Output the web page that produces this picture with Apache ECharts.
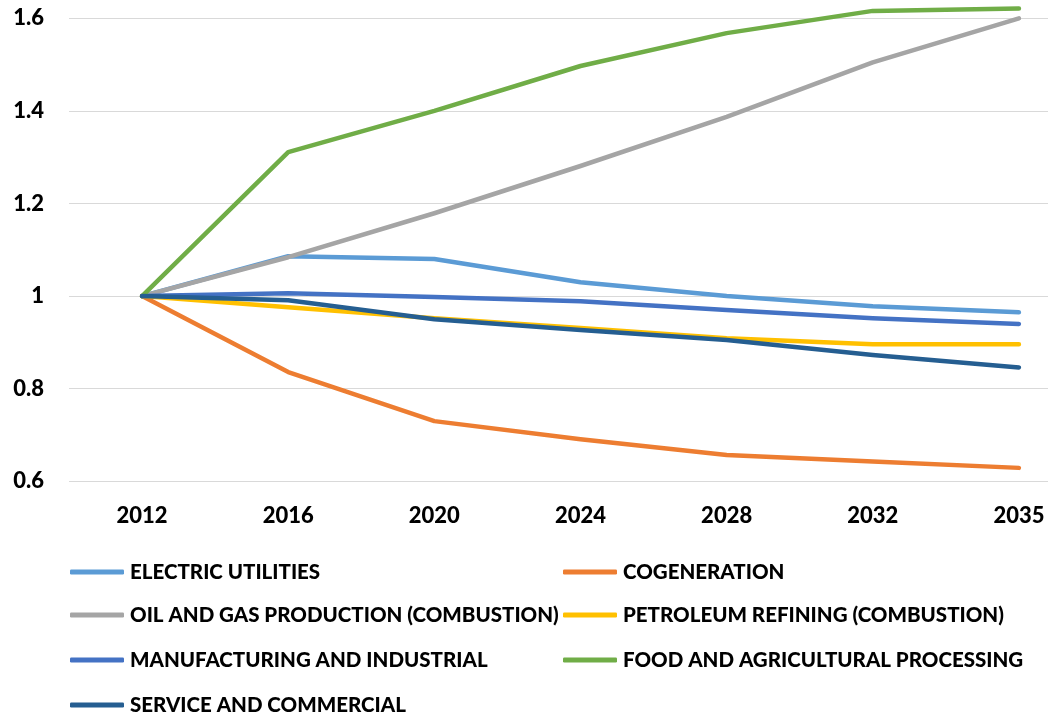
<!DOCTYPE html>
<html><head><meta charset="utf-8">
<script src="https://cdn.jsdelivr.net/npm/echarts@6/dist/echarts.min.js"></script>
<style>html,body{margin:0;padding:0;background:#fff}#c{width:1048px;height:714px}</style>
</head><body><div id="c"></div>
<script>
const years = ['2012','2016','2020','2024','2028','2032','2035'];
const seriesNames = ['ELECTRIC UTILITIES','COGENERATION','OIL AND GAS PRODUCTION (COMBUSTION)','PETROLEUM REFINING (COMBUSTION)','MANUFACTURING AND INDUSTRIAL','FOOD AND AGRICULTURAL PROCESSING','SERVICE AND COMMERCIAL'];
const electricUtilities = [1, 1.086, 1.080, 1.030, 1.000, 0.978, 0.965];
const cogeneration      = [1, 0.836, 0.730, 0.691, 0.657, 0.643, 0.629];
const oilGas            = [1, 1.084, 1.179, 1.281, 1.387, 1.505, 1.600];
const petroleum         = [1, 0.976, 0.952, 0.931, 0.909, 0.896, 0.896];
const manufacturing     = [1, 1.006, 0.998, 0.989, 0.970, 0.952, 0.940];
const food              = [1, 1.311, 1.400, 1.497, 1.568, 1.616, 1.621];
const service           = [1, 0.991, 0.950, 0.927, 0.905, 0.873, 0.846];
const yTicks = [0.6, 0.8, 1.0, 1.2, 1.4, 1.6, 1.8];

const values = [electricUtilities, cogeneration, oilGas, petroleum, manufacturing, food, service];
const colors = ['#5B9BD5','#ED7D31','#A5A5A5','#FFC000','#4472C4','#70AD47','#255E91'];
const FONT = 'Lato';

const chart = echarts.init(document.getElementById('c'), null, {renderer:'canvas'});

const legendPos = [
  {left:70, top:572}, {left:563, top:572},
  {left:70, top:615}, {left:563, top:615},
  {left:70, top:660}, {left:563, top:660},
  {left:70, top:705}
];
const legends = seriesNames.map((n,i)=>({
  data:[n], left:legendPos[i].left, top:legendPos[i].top - 11, padding:0,
  icon:'roundRect', itemWidth:54, itemHeight:5, itemGap:0,
  textStyle:{fontFamily:FONT, fontWeight:900, fontSize:20.5, color:'#000', lineHeight:22, padding:[0,0,0,1]},
  selectedMode:false
}));

chart.setOption({
  animation:false,
  backgroundColor:'#fff',
  grid:{left:69, top:-74.3, width:1023, height:555.6, containLabel:false, outerBoundsMode:'none'},
  xAxis:{
    type:'category', data:years, boundaryGap:true,
    axisLine:{show:false}, axisTick:{show:false},
    axisLabel:{fontFamily:FONT, fontWeight:900, fontSize:22, color:'#000', margin:24}
  },
  yAxis:{
    type:'value', min:yTicks[0], max:yTicks[yTicks.length-1], interval:0.2,
    axisLine:{show:false}, axisTick:{show:false},
    splitLine:{lineStyle:{color:'#D9D9D9', width:1.2}},
    axisLabel:{fontFamily:FONT, fontWeight:900, fontSize:22, color:'#000', margin:25,
      formatter:v=>{const r=Math.round(v*10)/10; return r===1?'1':String(r);}}
  },
  legend:legends,
  series:seriesNames.map((n,i)=>({
    name:n, type:'line', data:values[i], color:colors[i],
    symbol:'none', showSymbol:false,
    lineStyle:{width:4.5, color:colors[i], cap:'round', join:'round'},
    z:2+i
  }))
});
</script></body></html>
